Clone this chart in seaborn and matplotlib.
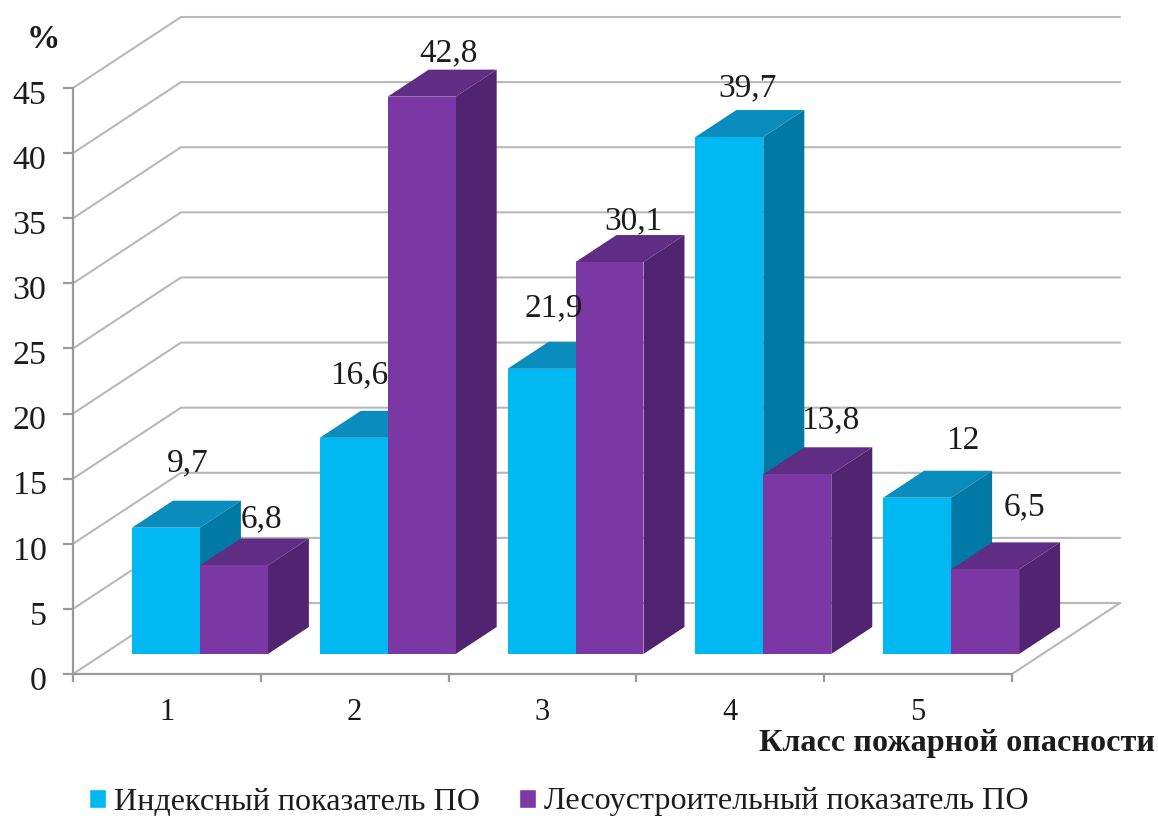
import matplotlib
matplotlib.use("Agg")
import matplotlib.pyplot as plt
from matplotlib.patches import Polygon
from matplotlib.transforms import ScaledTranslation
import pandas as pd
import seaborn as sns

# Fire danger classes and the share of forest area per class, percent
classes = ["1", "2", "3", "4", "5"]
index_values = [9.7, 16.6, 21.9, 39.7, 12]
survey_values = [6.8, 42.8, 30.1, 13.8, 6.5]
value_labels_index = ["9,7", "16,6", "21,9", "39,7", "12"]
value_labels_survey = ["6,8", "42,8", "30,1", "13,8", "6,5"]
series_names = ["Индексный показатель ПО", "Лесоустроительный показатель ПО"]
y_ticks = list(range(0, 50, 5))

W, H = 1158, 818
GRID = "#b8b8b8"
AXIS = "#9a9a9a"
TEXT = "#1c1c1c"
BLUE = ("#00b8f2", "#0a8dbc", "#0079a6")    # front, top, side
VIOLET = ("#7b38a4", "#602d85", "#512471")

sns.set_theme(style="white")
plt.rcParams["font.family"] = ["Liberation Serif", "DejaVu Serif"]


def box(left, bottom, right, top):
    """Axes rectangle given in pixels from the top-left corner."""
    return [left / W, 1 - bottom / H, (right - left) / W, (bottom - top) / H]


fig = plt.figure(figsize=(W / 100, H / 100), dpi=100, facecolor="white")

# Front plane carrying the axes, back wall and floor
ax = fig.add_axes(box(73, 674, 1012, 88))
ax.set_xlim(0, 5)
ax.set_ylim(0, 45)
px_x = 5 / 939      # data units per pixel
px_y = 45 / 586

wall_dx, wall_dy = 108 * px_x, 71 * px_y
for v in y_ticks:
    ax.plot([0, wall_dx, 5 + wall_dx], [v, v + wall_dy, v + wall_dy],
            color=GRID, lw=1.5, clip_on=False, zorder=1)
ax.plot([5, 5 + wall_dx], [0, wall_dy], color=GRID, lw=1.5, clip_on=False, zorder=1)

for side in ("top", "right"):
    ax.spines[side].set_visible(False)
for side in ("left", "bottom"):
    ax.spines[side].set_color(AXIS)
    ax.spines[side].set_linewidth(1.6)
ax.set_yticks(y_ticks)
ax.set_xticks(range(6))
ax.set_xticklabels([])
ax.set_xticks([i + 0.5 for i in range(5)], minor=True)
ax.set_xticklabels(classes, minor=True)
ax.tick_params(axis="y", length=7, width=1.6, color=AXIS, labelsize=24.5,
               labelcolor=TEXT, pad=12, left=True)
ax.tick_params(axis="x", which="major", length=6, width=1.6, color=AXIS, bottom=True)
ax.tick_params(axis="x", which="minor", length=0, labelsize=22, labelcolor=TEXT, pad=17)

# The numbers sit slightly below their ticks
nudge = ScaledTranslation(0, -4 / 100, fig.dpi_scale_trans)
for tick_label in ax.get_yticklabels():
    tick_label.set_transform(tick_label.get_transform() + nudge)

# Bars stand a little behind the front plane, on their own axes
ax3d = fig.add_axes(box(73 + 33, 654, 1012 + 33, 68))
ax3d.patch.set_visible(False)
ax3d.set_zorder(2)

data = pd.DataFrame({
    "cls": classes * 2,
    "share": index_values + survey_values,
    "series": [series_names[0]] * 5 + [series_names[1]] * 5,
})
sns.barplot(data=data, x="cls", y="share", hue="series", order=classes,
            hue_order=series_names, palette=[BLUE[0], VIOLET[0]],
            width=0.724, gap=0, saturation=1, dodge=True, ax=ax3d, legend=True)
ax3d.set_xlim(-0.5, 4.5)
ax3d.set_ylim(0, 45)

# Top and side faces of each bar
depth_x, depth_y = 41 * px_x, 27 * px_y
for s, (container, colours) in enumerate(zip(ax3d.containers, (BLUE, VIOLET))):
    base_z = 3 + 2 * s
    for bar in container:
        bar.set_zorder(base_z + 1)
        bar.set_edgecolor("none")
        x0, x1 = bar.get_x(), bar.get_x() + bar.get_width()
        h = bar.get_height()
        top = [(x0, h), (x1, h), (x1 + depth_x, h + depth_y), (x0 + depth_x, h + depth_y)]
        right = [(x1, 0), (x1 + depth_x, depth_y), (x1 + depth_x, h + depth_y), (x1, h)]
        ax3d.add_patch(Polygon(top, closed=True, fc=colours[1], ec="none",
                               clip_on=False, zorder=base_z))
        ax3d.add_patch(Polygon(right, closed=True, fc=colours[2], ec="none",
                               clip_on=False, zorder=base_z))

ax3d.axis("off")

# Value labels: pixel offsets from each bar's top centre
offsets_index = [(22, -65), (6, -63), (12, -61), (18, -49), (46, -57)]
offsets_survey = [(28, -46), (27, -44), (24, -41), (33, -54), (39, -62)]
for container, labels, offsets in zip(ax3d.containers,
                                      (value_labels_index, value_labels_survey),
                                      (offsets_index, offsets_survey)):
    for bar, label, (ox, oy) in zip(container, labels, offsets):
        ax3d.annotate(label, (bar.get_x() + bar.get_width() / 2, bar.get_height()),
                      xytext=(ox * 0.72, -oy * 0.72), textcoords="offset points",
                      ha="center", va="center", fontsize=24, color=TEXT,
                      annotation_clip=False, zorder=10)

fig.text(43 / W, 1 - 39 / H, "%", ha="center", va="center", fontsize=24,
         fontweight="bold", color=TEXT)
fig.text(1155 / W, 1 - 743 / H, "Класс пожарной опасности", ha="right", va="center",
         fontsize=23.2, fontweight="bold", color=TEXT)

sns.move_legend(ax3d, "center", bbox_to_anchor=(559 / W, 1 - 802 / H),
                bbox_transform=fig.transFigure, ncol=2, frameon=False, title=None,
                fontsize=23.1, labelcolor=TEXT, handlelength=0.53, handleheight=0.53,
                handletextpad=0.25, columnspacing=1.2)

fig.savefig("out.png", dpi=100, facecolor="white")
